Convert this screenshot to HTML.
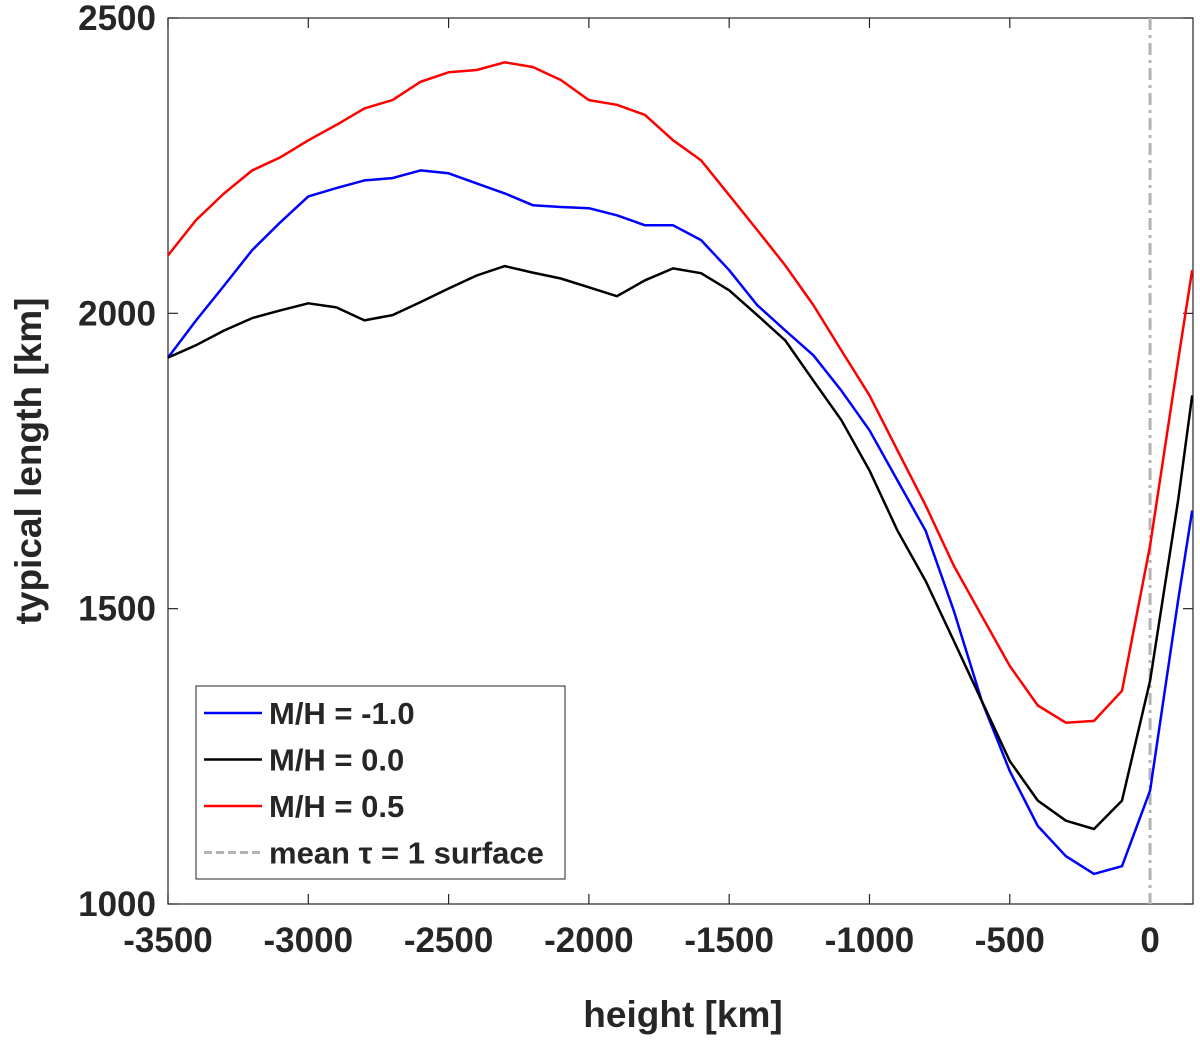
<!DOCTYPE html>
<html><head><meta charset="utf-8"><style>
html,body{margin:0;padding:0;background:#fff;}
svg text{font-family:"Liberation Sans",sans-serif;font-weight:bold;fill:#262626;}
</style></head><body>
<svg id="chart" width="1200" height="1035" xmlns="http://www.w3.org/2000/svg">
</svg>
<script>
const heights=[-3500,-3400,-3300,-3200,-3100,-3000,-2900,-2800,-2700,-2600,-2500,-2400,-2300,-2200,-2100,-2000,-1900,-1800,-1700,-1600,-1500,-1400,-1300,-1200,-1100,-1000,-900,-800,-700,-600,-500,-400,-300,-200,-100,0,100,150];
const blueVals=[1925,1988,2047,2107,2154,2198,2212,2225,2229,2242,2237,2220,2203,2183,2180,2178,2166,2149,2149,2124,2073,2014,1971,1929,1869,1802,1717,1632,1497,1344,1225,1132,1081,1051,1064,1192,1514,1666];
const blackVals=[1925,1946,1971,1992,2005,2017,2010,1988,1997,2019,2042,2064,2080,2069,2059,2044,2029,2056,2076,2068,2039,1997,1954,1886,1819,1734,1632,1547,1446,1344,1242,1175,1141,1127,1175,1378,1683,1861];
const redVals=[2098,2158,2203,2242,2264,2293,2319,2347,2361,2392,2408,2412,2425,2417,2395,2361,2353,2336,2293,2259,2200,2141,2081,2014,1937,1861,1768,1675,1573,1488,1403,1336,1307,1310,1361,1607,1920,2073];
const xTicks=[-3500,-3000,-2500,-2000,-1500,-1000,-500,0];
const yTicks=[1000,1500,2000,2500];
const seriesNames=["M/H = -1.0","M/H = 0.0","M/H = 0.5"];

const L=168,R=1193,T=18,B=904;
const xMin=-3500,xMax=153,yMin=1000,yMax=2500;
const X=v=>L+(v-xMin)/(xMax-xMin)*(R-L);
const Y=v=>B-(v-yMin)/(yMax-yMin)*(B-T);
const NS="http://www.w3.org/2000/svg";
const svg=document.getElementById('chart');
function mk(tag,at,parent){const e=document.createElementNS(NS,tag);for(const k in at)e.setAttribute(k,at[k]);(parent||svg).appendChild(e);return e;}

const box=mk('rect',{x:L,y:T,width:R-L,height:B-T,fill:'none',stroke:'#262626','stroke-width':1.2});



xTicks.forEach(v=>{
  const t=mk('line',{x1:X(v),x2:X(v),y1:B,y2:B-10,stroke:'#262626','stroke-width':1.2});
  
  
  const t2=mk('line',{x1:X(v),x2:X(v),y1:T,y2:T+10,stroke:'#262626','stroke-width':1.2});
  
  
  const l=mk('text',{x:X(v),y:B+48,'text-anchor':'middle','font-size':35});
  l.textContent=v;
  
  
});
yTicks.forEach(v=>{
  const t=mk('line',{x1:L,x2:L+10,y1:Y(v),y2:Y(v),stroke:'#262626','stroke-width':1.2});
  
  
  const t2=mk('line',{x1:R,x2:R-10,y1:Y(v),y2:Y(v),stroke:'#262626','stroke-width':1.2});
  
  
  const l=mk('text',{x:L-12,y:Y(v)+12,'text-anchor':'end','font-size':35});
  l.textContent=v;
  
  
});
const xl=mk('text',{x:683,y:1027,'text-anchor':'middle','font-size':37});
xl.textContent='height [km]';


const yl=mk('text',{x:0,y:0,'text-anchor':'middle','font-size':37,transform:'translate(41,461) rotate(-90)'});
yl.textContent='typical length [km]';



const tau=mk('line',{x1:X(0),x2:X(0),y1:T,y2:B,stroke:'#b3b3b3','stroke-width':3,'stroke-dasharray':'12 5 3 5'});



const series=[[blueVals,'#0000ff','series-mh-minus-1'],[blackVals,'#000000','series-mh-0'],[redVals,'#ff0000','series-mh-0.5']];
series.forEach(([vals,c,n])=>{
  const d=vals.map((v,i)=>(i?'L':'M')+X(heights[i]).toFixed(1)+','+Y(v).toFixed(1)).join(' ');
  const p=mk('path',{d:d,fill:'none',stroke:c,'stroke-width':2.5,'stroke-linejoin':'round'});
  
  
});

const lg=mk('g',{});


mk('rect',{x:196,y:686,width:369,height:193,fill:'#fff',stroke:'#262626','stroke-width':1},lg);
const cols=['#0000ff','#000000','#ff0000'];
const names=seriesNames.concat(['mean \u03C4 = 1 surface']);
names.forEach((nm,i)=>{
  const y=713+i*46.5;
  const ln=mk('line',{x1:204,x2:262,y1:y,y2:y,stroke:i<3?cols[i]:'#b3b3b3','stroke-width':i<3?2.5:3,'stroke-dasharray':i<3?'none':'8 4'},lg);
  
  
  const t=mk('text',{x:269,y:y+11,'font-size':31,fill:'#000'},lg);
  t.textContent=nm;
  
  
});
</script>
</body></html>
